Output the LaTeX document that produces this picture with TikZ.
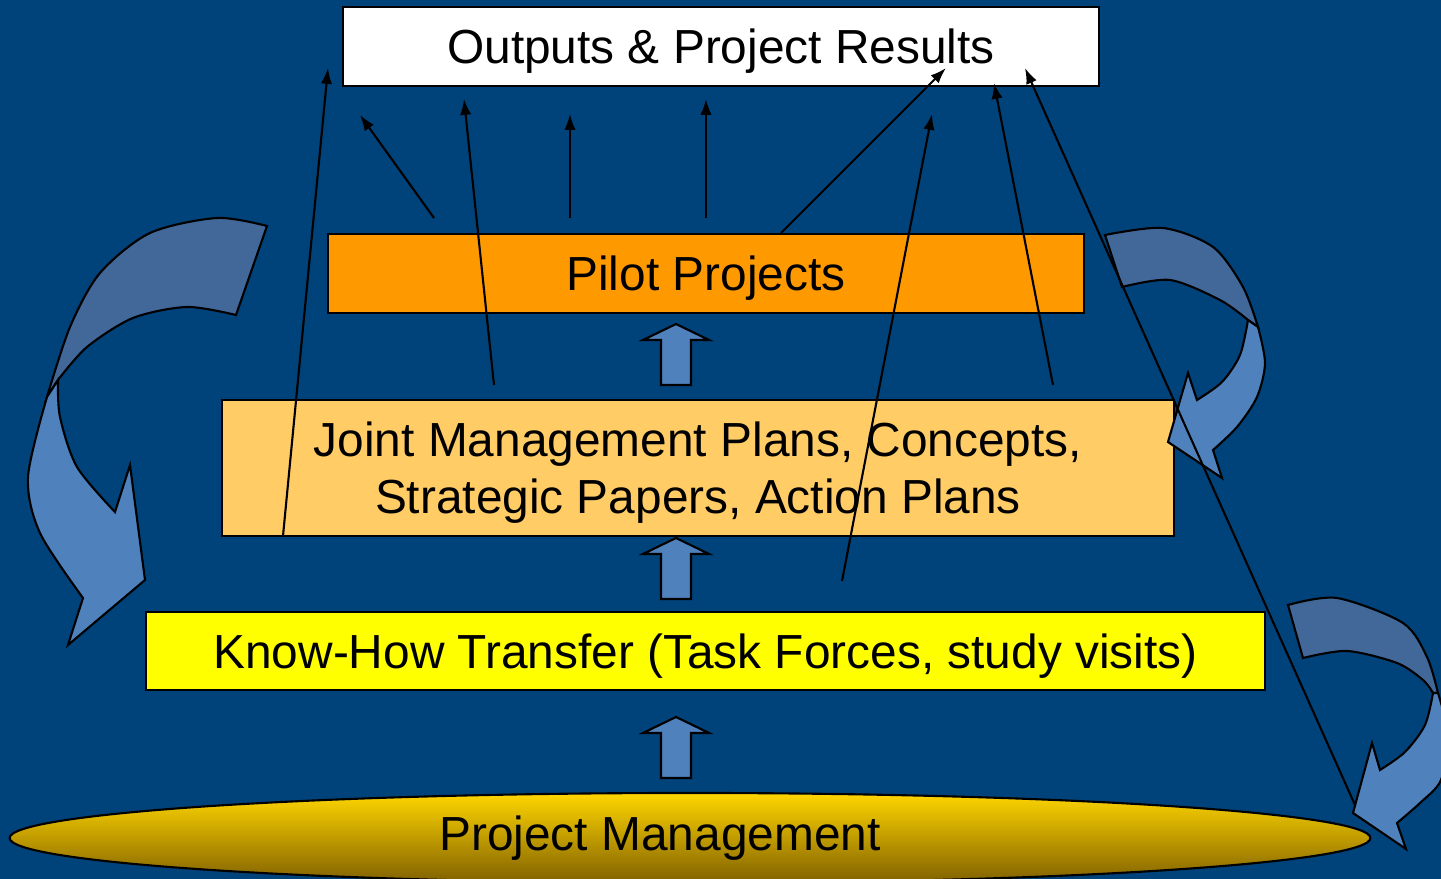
\documentclass[tikz,border=0pt]{standalone}
\usepackage{fontspec}
\setmainfont{Liberation Sans}
\usetikzlibrary{arrows.meta,
		shapes.geometric}

\definecolor{bgblue}{RGB}{0,66,122}
\definecolor{pilotorange}{RGB}{255,153,0}
\definecolor{jointorange}{RGB}{255,204,102}
\definecolor{knowyellow}{RGB}{255,255,0}
\definecolor{frontblue}{RGB}{79,129,189}
\definecolor{backblue}{RGB}{66,104,153}
\definecolor{pmtop}{RGB}{255,214,0}
\definecolor{pmbottom}{RGB}{128,96,0}

% text sits a little lower in its box
\newcommand{\lowtext}[1]{\raisebox{-1.4pt}[\height][\depth]{#1}}

\tikzset{
	box/.style = {draw=black, line width=0.6pt, inner sep=0pt, align=center,
		font=\fontsize{13.6}{16.2}\selectfont},
	blockup/.style = {fill=frontblue, draw=black, line width=0.6pt, line join=miter},
	frontpart/.style = {fill=frontblue, draw=black, line width=0.6pt},
	backpart/.style = {fill=backblue, draw=black, line width=0.6pt},
	thinarrow/.style = {-{Latex[length=4.5pt,width=3.2pt]}, line width=0.6pt}
}

\begin{document}
\begin{tikzpicture}[x=0.01cm, y=-0.01cm]

\useasboundingbox (0,0) rectangle (1441,879);
\clip (0,0) rectangle (1441,879);

% background
\fill [bgblue] (0,0) rectangle (1441,879);

% boxes
\node[box, fill=white, minimum width=7.56cm, minimum height=0.79cm] (outputs) at (721,46.5) {\lowtext{Outputs \& Project Results}};
\node[box, fill=pilotorange, minimum width=7.56cm, minimum height=0.79cm] (pilot) at (706,273.5) {\lowtext{Pilot Projects}};
\node[box, fill=jointorange, minimum width=9.52cm, minimum height=1.36cm] (joint) at (698,468) {\lowtext{Joint Management Plans, Concepts,}\\\lowtext{Strategic Papers, Action Plans}};
\node[box, fill=knowyellow, minimum width=11.19cm, minimum height=0.78cm] (knowhow) at (705.5,651) {\lowtext{Know-How Transfer (Task Forces, study visits)}};

% project management
\node[ellipse, draw=black, line width=0.6pt, top color=pmtop, bottom color=pmbottom,
	minimum width=13.6cm, minimum height=0.9cm, inner sep=0pt] (pm) at (690,838) {};
\node[font=\fontsize{13.6}{16.2}\selectfont, inner sep=0pt] (pmtext) at (660,838) {Project Management};

% block arrows between levels
\foreach \ty in {324,538,717}
	\filldraw[blockup] (676,\ty) -- ++(-33,16) -- ++(18,0) -- ++(0,45) -- ++(30,0) -- ++(0,-45) -- ++(18,0) -- cycle;

% left curved arrow
\filldraw[backpart] plot [smooth] coordinates {(267,226) (217,218) (150,233) (100,273) (70,327) (47,397)}
	-- plot [smooth] coordinates {(58,380) (87,347) (133,318) (187,307) (236,315)} -- cycle;
\filldraw[frontpart] plot [smooth] coordinates {(47,397) (28,477) (40,533) (83,598)}
	-- (68,645) -- (145,580) -- (130,465) -- (115,512)
	-- plot [smooth] coordinates {(115,512) (77,467) (60,417) (58,380)} -- cycle;

% upper right curved arrow
\filldraw[backpart] plot [smooth] coordinates {(1105,235) (1163,228) (1213,247) (1243,287) (1258,327)}
	-- plot [smooth] coordinates {(1248,320) (1220,300) (1170,280) (1122,287)} -- cycle;
\filldraw[frontpart] plot [smooth] coordinates {(1258,327) (1265,363) (1257,397) (1237,427) (1213,450)}
	-- (1222,478) -- (1168,442) -- (1188,373) -- (1197,400)
	-- plot [smooth] coordinates {(1197,400) (1222,382) (1240,355) (1248,320)} -- cycle;

% lower right curved arrow
\filldraw[backpart] plot [smooth] coordinates {(1288,605) (1337,598) (1403,623) (1427,657) (1438,693)}
	-- plot [smooth] coordinates {(1433,693) (1423,680) (1397,663) (1347,651) (1303,658)} -- cycle;
\filldraw[frontpart] plot [smooth] coordinates {(1438,693) (1448,735) (1441,780) (1420,803) (1397,823)}
	-- (1406,849) -- (1353,813) -- (1372,743) -- (1380,770)
	-- plot [smooth] coordinates {(1380,770) (1405,752) (1425,725) (1433,693)} -- cycle;

% thin arrows towards the results
\foreach \i/\sx/\sy/\ex/\ey in {1/434/218/360/115, 2/494/385/464/99, 3/570/218/570/114,
		4/706/218/706/99, 5/781/233/946/68, 6/842/581/932/114,
		7/1053/385/994/83, 8/283/536/328/68, 9/1355/805/1025/68}
{
	\coordinate (from\i) at (\sx,\sy);
	\coordinate (to\i) at (\ex,\ey);
	\draw[thinarrow] (from\i) -- (to\i);
}

\end{tikzpicture}
\end{document}
